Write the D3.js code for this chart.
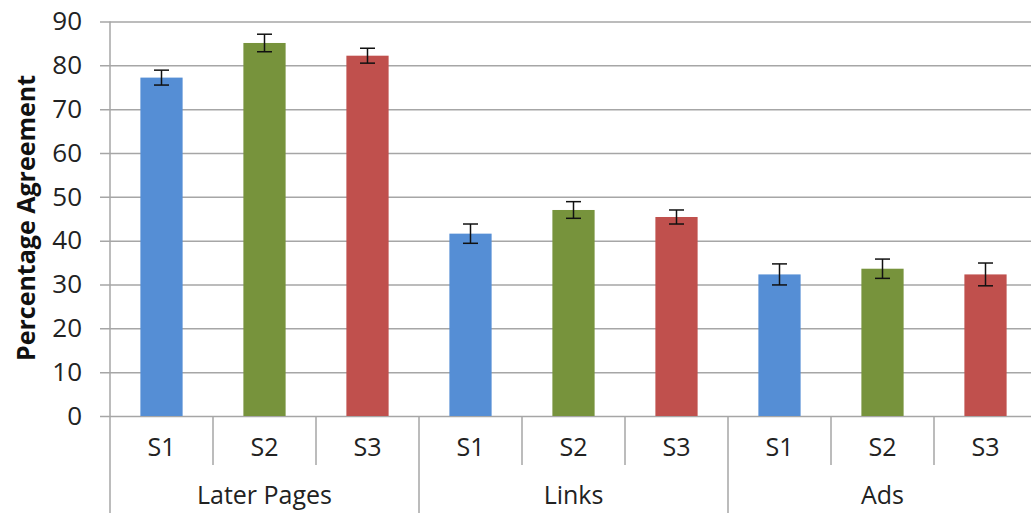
<!DOCTYPE html>
<html><head><meta charset="utf-8">
<script src="https://cdn.jsdelivr.net/npm/d3@7"></script>
<style>html,body{margin:0;padding:0;background:#fff;overflow:hidden}</style>
</head><body>
<svg id="c" width="1031" height="513"></svg>
<script>
const groups = ["Later Pages", "Links", "Ads"];
const series = ["S1", "S2", "S3"];
const valuesS1 = [77.2, 41.6, 32.3];
const valuesS2 = [85.1, 47.0, 33.6];
const valuesS3 = [82.2, 45.4, 32.3];
const errS1 = [1.7, 2.2, 2.4];
const errS2 = [2.0, 1.9, 2.2];
const errS3 = [1.7, 1.6, 2.6];
const yTicks = [0, 10, 20, 30, 40, 50, 60, 70, 80, 90];
const colors = ["#558ED5", "#77933C", "#C0504D"];

const values = [valuesS1, valuesS2, valuesS3];
const errs = [errS1, errS2, errS3];
const data = [];
groups.forEach((g, gi) => series.forEach((s, si) => data.push({g, s, si, v: values[si][gi], e: errs[si][gi]})));

const svg = d3.select("#c");
const pLeft = 110, pRight = 1037, pTop = 21.5, pBottom = 416;
const font = "'Open Sans', 'Liberation Sans', sans-serif";

const y = d3.scaleLinear().domain([0, 90]).range([pBottom, pTop]);
const xg = d3.scaleBand().domain(groups).range([pLeft, pRight]).padding(0);
const xs = d3.scaleBand().domain(series).range([0, xg.bandwidth()]).padding(0);
const barW = xs.bandwidth() * 0.41;
const gridColor = "#a6a6a6";

// gridlines + y ticks
const ga = svg.append("g").attr("transform", `translate(${pLeft},0)`)
  .call(d3.axisRight(y).tickValues(yTicks).tickSize(pRight - pLeft).tickFormat(""));
ga.select(".domain").remove();
ga.selectAll(".tick line").attr("stroke", gridColor).attr("stroke-width", 1.5).attr("x1", -10);

const ya = svg.append("g").attr("transform", `translate(${pLeft},0)`)
  .call(d3.axisLeft(y).tickValues(yTicks).tickSize(0).tickPadding(28));
ya.select(".domain").remove();
ya.selectAll("text").attr("font-family", font).attr("font-size", 26).attr("fill", "#222");

// y axis line extending to bottom
svg.append("line").attr("x1", pLeft).attr("x2", pLeft).attr("y1", pTop).attr("y2", 513)
  .attr("stroke", gridColor).attr("stroke-width", 1.5);

// bars
const bars = svg.append("g");
bars.selectAll("rect").data(data).join("rect")
  .attr("x", d => xg(d.g) + xs(d.s) + xs.bandwidth() / 2 - barW / 2)
  .attr("width", barW)
  .attr("y", d => y(d.v))
  .attr("height", d => pBottom - y(d.v))
  .attr("fill", d => colors[d.si]);

// error bars
const eb = svg.append("g").attr("stroke", "#111").attr("stroke-width", 1.5);
data.forEach(d => {
  const cx = xg(d.g) + xs(d.s) + xs.bandwidth() / 2;
  eb.append("line").attr("x1", cx).attr("x2", cx).attr("y1", y(d.v + d.e)).attr("y2", y(d.v - d.e));
  eb.append("line").attr("x1", cx - 7.5).attr("x2", cx + 7.5).attr("y1", y(d.v + d.e)).attr("y2", y(d.v + d.e));
  eb.append("line").attr("x1", cx - 7.5).attr("x2", cx + 7.5).attr("y1", y(d.v - d.e)).attr("y2", y(d.v - d.e));
});

// category axis separators
const sep = svg.append("g").attr("stroke", gridColor).attr("stroke-width", 1.5);
groups.forEach(g => {
  series.forEach((s, si) => {
    if (si > 0) sep.append("line").attr("x1", xg(g) + xs(s)).attr("x2", xg(g) + xs(s)).attr("y1", pBottom).attr("y2", 465);
  });
  sep.append("line").attr("x1", xg(g) + xg.bandwidth()).attr("x2", xg(g) + xg.bandwidth()).attr("y1", pBottom).attr("y2", 513);
});

// labels
const lab = svg.append("g").attr("font-family", font).attr("font-size", 25).attr("fill", "#222").attr("text-anchor", "middle");
data.forEach(d => {
  lab.append("text").attr("x", xg(d.g) + xs(d.s) + xs.bandwidth() / 2).attr("y", 456).text(d.s);
});
groups.forEach(g => {
  lab.append("text").attr("x", xg(g) + xg.bandwidth() / 2).attr("y", 504).text(g);
});

svg.append("text").attr("transform", "translate(35,218) rotate(-90)")
  .attr("text-anchor", "middle").attr("font-family", font).attr("font-weight", "bold")
  .attr("font-size", 25).attr("fill", "#111").text("Percentage Agreement");
</script>
</body></html>
